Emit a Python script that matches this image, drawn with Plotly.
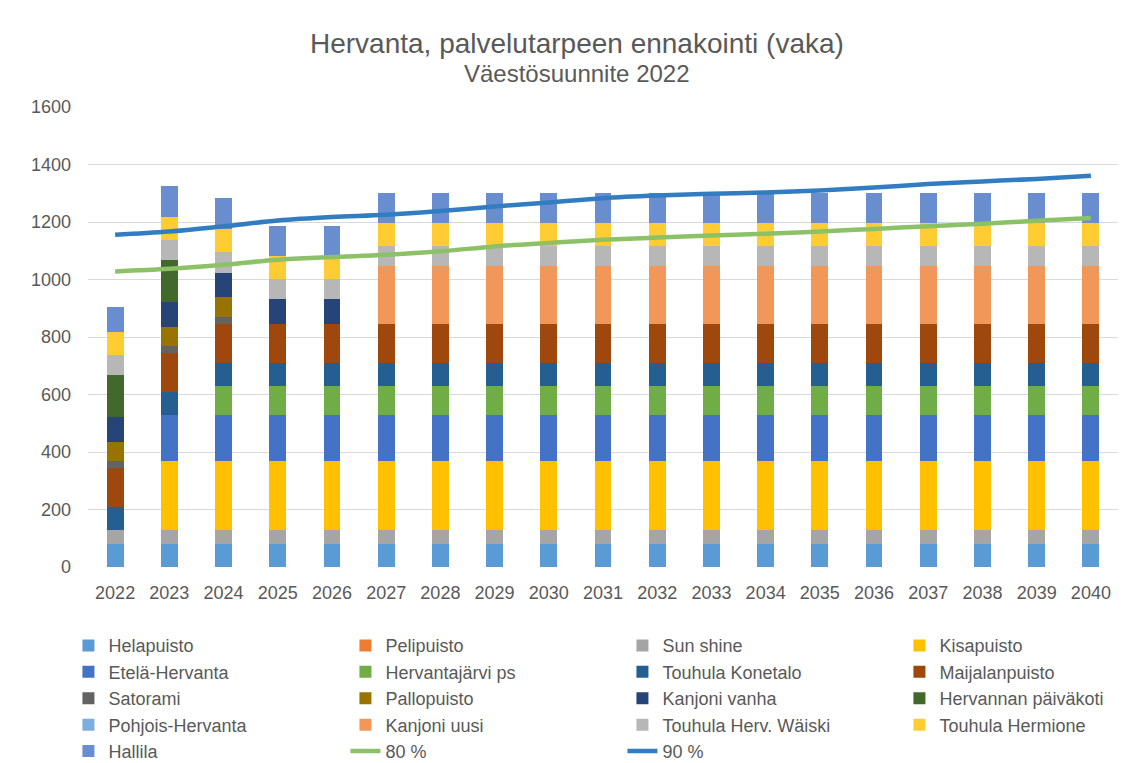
import plotly.graph_objects as go

# Vuodet (x-akseli)
vuodet = ["2022", "2023", "2024", "2025", "2026", "2027", "2028", "2029", "2030", "2031",
          "2032", "2033", "2034", "2035", "2036", "2037", "2038", "2039", "2040"]

# Päiväkotien paikat vuosittain
helapuisto = [80, 80, 80, 80, 80, 80, 80, 80, 80, 80, 80, 80, 80, 80, 80, 80, 80, 80, 80]
pelipuisto = [0, 0, 0, 0, 0, 0, 0, 0, 0, 0, 0, 0, 0, 0, 0, 0, 0, 0, 0]
sun_shine = [50, 50, 50, 50, 50, 50, 50, 50, 50, 50, 50, 50, 50, 50, 50, 50, 50, 50, 50]
kisapuisto = [0, 240, 240, 240, 240, 240, 240, 240, 240, 240, 240, 240, 240, 240, 240, 240, 240, 240, 240]
etela_hervanta = [0, 160, 160, 160, 160, 160, 160, 160, 160, 160, 160, 160, 160, 160, 160, 160, 160, 160, 160]
hervantajarvi = [0, 0, 100, 100, 100, 100, 100, 100, 100, 100, 100, 100, 100, 100, 100, 100, 100, 100, 100]
konetalo = [80, 80, 80, 80, 80, 80, 80, 80, 80, 80, 80, 80, 80, 80, 80, 80, 80, 80, 80]
maijalanpuisto = [134, 134, 134, 134, 134, 134, 134, 134, 134, 134, 134, 134, 134, 134, 134, 134, 134, 134, 134]
satorami = [26, 26, 26, 0, 0, 0, 0, 0, 0, 0, 0, 0, 0, 0, 0, 0, 0, 0, 0]
pallopuisto = [65, 65, 68, 0, 0, 0, 0, 0, 0, 0, 0, 0, 0, 0, 0, 0, 0, 0, 0]
kanjoni_vanha = [88, 88, 86, 87, 87, 0, 0, 0, 0, 0, 0, 0, 0, 0, 0, 0, 0, 0, 0]
hervannan_pk = [144, 144, 0, 0, 0, 0, 0, 0, 0, 0, 0, 0, 0, 0, 0, 0, 0, 0, 0]
pohjois_hervanta = [0, 0, 0, 0, 0, 0, 0, 0, 0, 0, 0, 0, 0, 0, 0, 0, 0, 0, 0]
kanjoni_uusi = [0, 0, 0, 0, 0, 202, 202, 202, 202, 202, 202, 202, 202, 202, 202, 202, 202, 202, 202]
waiski = [72, 72, 72, 72, 72, 72, 72, 72, 72, 72, 72, 72, 72, 72, 72, 72, 72, 72, 72]
hermione = [80, 80, 80, 80, 80, 80, 80, 80, 80, 80, 80, 80, 80, 80, 80, 80, 80, 80, 80]
hallila = [85, 106, 106, 104, 104, 104, 104, 104, 104, 104, 104, 104, 104, 104, 104, 104, 104, 104, 104]

# Palvelutarve (viivat)
tarve_80 = [1028, 1037, 1051, 1069, 1078, 1086, 1098, 1115, 1127, 1138,
            1146, 1153, 1159, 1167, 1176, 1185, 1194, 1204, 1214]
tarve_90 = [1156, 1167, 1185, 1205, 1217, 1225, 1238, 1254, 1268, 1283,
            1292, 1298, 1303, 1310, 1320, 1332, 1341, 1350, 1361]

sarjat = [
    ("Helapuisto", helapuisto, "#5B9BD5"),
    ("Pelipuisto", pelipuisto, "#ED7D31"),
    ("Sun shine", sun_shine, "#A5A5A5"),
    ("Kisapuisto", kisapuisto, "#FFC000"),
    ("Etelä-Hervanta", etela_hervanta, "#4472C4"),
    ("Hervantajärvi ps", hervantajarvi, "#70AD47"),
    ("Touhula Konetalo", konetalo, "#255E91"),
    ("Maijalanpuisto", maijalanpuisto, "#9E480E"),
    ("Satorami", satorami, "#636363"),
    ("Pallopuisto", pallopuisto, "#997300"),
    ("Kanjoni vanha", kanjoni_vanha, "#264478"),
    ("Hervannan päiväkoti", hervannan_pk, "#43682B"),
    ("Pohjois-Hervanta", pohjois_hervanta, "#7CAFDD"),
    ("Kanjoni uusi", kanjoni_uusi, "#F1975A"),
    ("Touhula Herv. Wäiski", waiski, "#B7B7B7"),
    ("Touhula Hermione", hermione, "#FFCD33"),
    ("Hallila", hallila, "#698ED0"),
]

fig = go.Figure()

for nimi, arvot, vari in sarjat:
    fig.add_trace(go.Bar(x=vuodet, y=arvot, name=nimi,
                         marker=dict(color=vari, line=dict(width=0))))

fig.add_trace(go.Scatter(x=vuodet, y=tarve_80, name="80 %", mode="lines",
                         line=dict(color="#8CC168", width=4.5, shape="spline")))
fig.add_trace(go.Scatter(x=vuodet, y=tarve_90, name="90 %", mode="lines",
                         line=dict(color="#327DC2", width=4.5, shape="spline")))

# Otsikko ja alaotsikko
fig.add_annotation(text="Hervanta, palvelutarpeen ennakointi (vaka)",
                   x=0.475, y=1.137, xref="paper", yref="paper",
                   xanchor="center", yanchor="middle", showarrow=False,
                   font=dict(size=28, color="#595959"))
fig.add_annotation(text="Väestösuunnite 2022",
                   x=0.475, y=1.072, xref="paper", yref="paper",
                   xanchor="center", yanchor="middle", showarrow=False,
                   font=dict(size=24, color="#595959"))

# sivun oletusmarginaali (8 px) vähennetty koosta ja reunuksista
fig.update_layout(
    width=1124, height=755,
    barmode="stack",
    bargap=0.69,
    plot_bgcolor="white",
    paper_bgcolor="white",
    font=dict(family="Liberation Sans, Arial, sans-serif", size=18, color="#595959"),
    margin=dict(l=80, r=14, t=99, b=196, autoexpand=False),
    legend=dict(orientation="h", x=-0.019, xanchor="left", y=-0.131, yanchor="top",
                entrywidth=232, entrywidthmode="pixels",
                font=dict(size=18, color="#595959"), traceorder="normal"),
)

fig.update_xaxes(type="category", showgrid=False, showline=False, ticks="",
                 ticklabelstandoff=13, tickfont=dict(size=18, color="#595959"))
fig.update_yaxes(range=[0, 1600], dtick=200, showgrid=True, gridcolor="#D9D9D9",
                 gridwidth=1.3, zeroline=False, showline=False, ticks="",
                 ticklabelstandoff=16, tickfont=dict(size=18, color="#595959"))

fig.write_html("out.html")
